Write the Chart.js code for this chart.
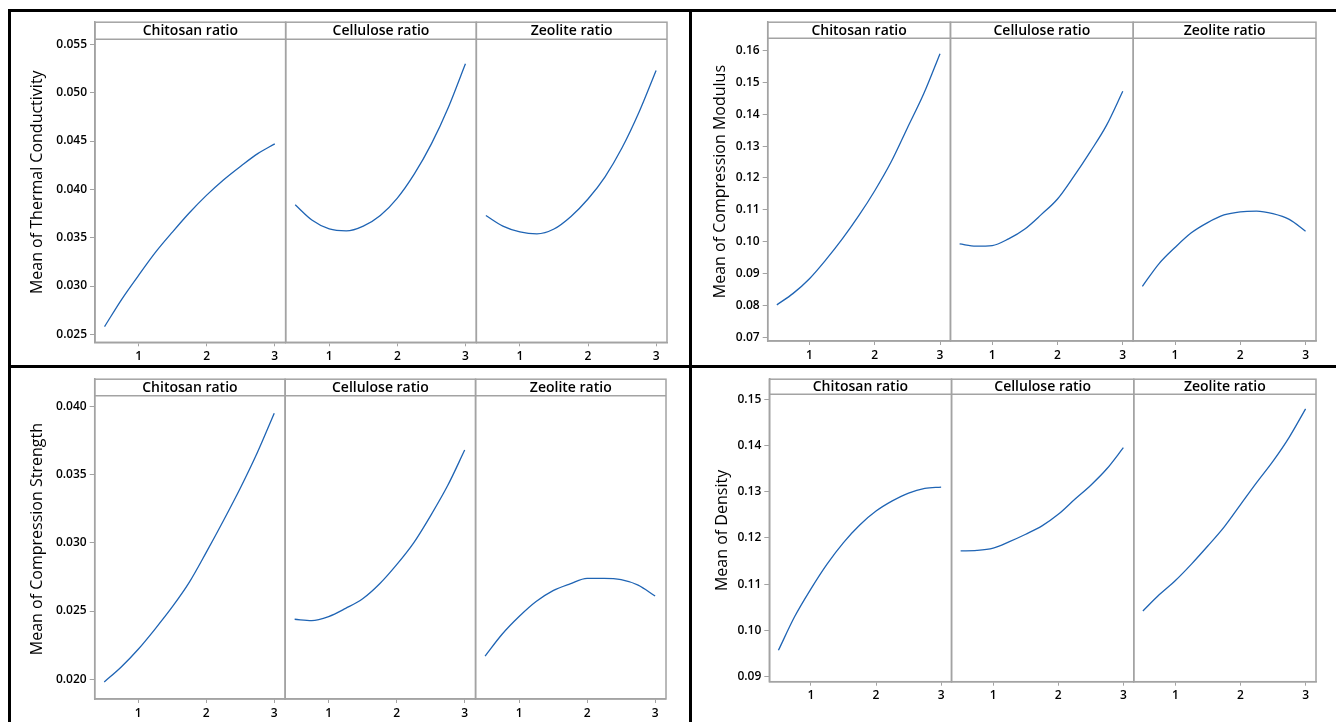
<!DOCTYPE html>
<html><head><meta charset="utf-8">
<script src="https://cdn.jsdelivr.net/npm/chart.js@4/dist/chart.umd.min.js"></script>
<style>
html,body{margin:0;padding:0;background:#fff;width:1336px;height:722px;overflow:hidden;position:relative}
.frame{position:absolute;background:#000}
canvas{position:absolute}
</style></head><body>
<div class="frame" style="left:8px;top:9px;width:1328px;height:3px"></div>
<div class="frame" style="left:8px;top:9px;width:3px;height:713px"></div>
<div class="frame" style="left:689px;top:9px;width:3px;height:713px"></div>
<div class="frame" style="left:8px;top:365px;width:1328px;height:3px"></div>
<canvas id="cTL" width="677" height="353" style="left:12px;top:12px"></canvas>
<canvas id="cTR" width="643" height="353" style="left:693px;top:12px"></canvas>
<canvas id="cBL" width="677" height="353" style="left:12px;top:369px"></canvas>
<canvas id="cBR" width="643" height="353" style="left:693px;top:369px"></canvas>
<script>
// ---- data ----
const factorNames = ['Chitosan ratio', 'Cellulose ratio', 'Zeolite ratio'];
const xValues = [0.5, 0.75, 1, 1.25, 1.5, 1.75, 2, 2.25, 2.5, 2.75, 3];
const xTicks = [1, 2, 3];
const xTickLabels = ['1', '2', '3'];

const thermalChitosan  = [0.0258, 0.0286, 0.0311, 0.0335, 0.0356, 0.0376, 0.0394, 0.0410, 0.0424, 0.0437, 0.0447];
const thermalCellulose = [0.0384, 0.0368, 0.0359, 0.0357, 0.0362, 0.0373, 0.0391, 0.0416, 0.0447, 0.0485, 0.0530];
const thermalZeolite   = [0.0373, 0.0362, 0.0356, 0.0354, 0.0359, 0.0372, 0.0390, 0.0413, 0.0443, 0.0480, 0.0523];

const modulusChitosan  = [0.0802, 0.0838, 0.0884, 0.0943, 0.1008, 0.1080, 0.1160, 0.1250, 0.1357, 0.1464, 0.1590];
const modulusCellulose = [0.0993, 0.0986, 0.0988, 0.1009, 0.1040, 0.1085, 0.1134, 0.1205, 0.1282, 0.1365, 0.1472];
const modulusZeolite   = [0.0860, 0.0930, 0.0982, 0.1028, 0.1060, 0.1084, 0.1094, 0.1096, 0.1088, 0.1070, 0.1033];

const strengthChitosan  = [0.0198, 0.0209, 0.0222, 0.0237, 0.0253, 0.0271, 0.0293, 0.0316, 0.0340, 0.0366, 0.0395];
const strengthCellulose = [0.0244, 0.0243, 0.0246, 0.0252, 0.0259, 0.0270, 0.0284, 0.0300, 0.0320, 0.0342, 0.0368];
const strengthZeolite   = [0.0217, 0.0233, 0.0246, 0.0257, 0.0265, 0.0270, 0.0274, 0.0274, 0.0273, 0.0269, 0.0261];

const densityChitosan  = [0.0957, 0.1030, 0.1090, 0.1144, 0.1190, 0.1228, 0.1258, 0.1280, 0.1297, 0.1307, 0.1310];
const densityCellulose = [0.1172, 0.1173, 0.1178, 0.1192, 0.1208, 0.1226, 0.1251, 0.1283, 0.1314, 0.1350, 0.1395];
const densityZeolite   = [0.1042, 0.1077, 0.1108, 0.1144, 0.1183, 0.1224, 0.1272, 0.1320, 0.1366, 0.1418, 0.1479];

const thermalTicks = [0.025, 0.030, 0.035, 0.040, 0.045, 0.050, 0.055];
const thermalTickLabels = ['0.025', '0.030', '0.035', '0.040', '0.045', '0.050', '0.055'];
const modulusTicks = [0.07, 0.08, 0.09, 0.10, 0.11, 0.12, 0.13, 0.14, 0.15, 0.16];
const modulusTickLabels = ['0.07', '0.08', '0.09', '0.10', '0.11', '0.12', '0.13', '0.14', '0.15', '0.16'];
const strengthTicks = [0.020, 0.025, 0.030, 0.035, 0.040];
const strengthTickLabels = ['0.020', '0.025', '0.030', '0.035', '0.040'];
const densityTicks = [0.09, 0.10, 0.11, 0.12, 0.13, 0.14, 0.15];
const densityTickLabels = ['0.09', '0.10', '0.11', '0.12', '0.13', '0.14', '0.15'];

// ---- style ----
const FONT = "'Open Sans', 'DejaVu Sans', sans-serif";
const GRAY = '#a3a3a3';
const BLUE = '#1f64b4';

const panelPlugin = {
  id: 'panelFrames',
  afterDraw(chart) {
    const o = chart.options.plugins.panelFrames;
    const ca = chart.chartArea;
    const ctx = chart.ctx;
    ctx.save();
    ctx.strokeStyle = GRAY;
    ctx.lineWidth = 1.5;
    ['x0', 'x1', 'x2'].forEach((id, i) => {
      const s = chart.scales[id];
      ctx.strokeRect(s.left, ca.top, s.right - s.left, ca.bottom - ca.top);
      ctx.beginPath();
      ctx.moveTo(s.left, ca.top + o.stripH);
      ctx.lineTo(s.right, ca.top + o.stripH);
      ctx.stroke();
      ctx.fillStyle = '#000';
      ctx.font = '600 14px ' + FONT;
      ctx.textAlign = 'center';
      ctx.textBaseline = 'middle';
      ctx.fillText(factorNames[i], (s.left + s.right) / 2, ca.top + o.stripH / 2 + 0.5);
    });
    ctx.restore();
  }
};

function makeChart(id, g) {
  const series = g.series;
  const datasets = series.map((arr, i) => ({
    data: xValues.map((x, k) => ({x: x, y: arr[k]})),
    xAxisID: 'x' + i, yAxisID: 'y',
    borderColor: BLUE, borderWidth: 1.3, pointRadius: 0, fill: false,
    cubicInterpolationMode: 'monotone'
  }));
  const xScale = () => ({
    type: 'linear', position: 'bottom', stack: 'panels', stackWeight: 1,
    min: 0.36, max: 3.16,
    afterBuildTicks: (s) => { s.ticks = xTicks.map(v => ({value: v})); },
    afterFit: (s) => { s.height = 20; },
    ticks: {
      color: '#000', font: {family: FONT, size: 12, weight: '600'}, padding: 3,
      maxRotation: 0, autoSkip: false,
      callback: (v) => xTickLabels[xTicks.indexOf(v)]
    },
    grid: {drawOnChartArea: false, drawTicks: true, tickLength: 4, color: GRAY, lineWidth: 1},
    border: {display: true, color: GRAY, width: 1.5}
  });
  return new Chart(document.getElementById(id), {
    type: 'line',
    data: {datasets},
    plugins: [panelPlugin],
    options: {
      responsive: false, animation: false, devicePixelRatio: 1, events: [],
      layout: {padding: {left: 0, top: g.padTop, right: g.padRight, bottom: g.padBottom}},
      plugins: {legend: {display: false}, tooltip: {enabled: false}, panelFrames: {stripH: g.stripH}},
      scales: {
        x0: xScale(), x1: xScale(), x2: xScale(),
        y: {
          type: 'linear', position: 'left', min: g.min, max: g.max,
          afterBuildTicks: (s) => { s.ticks = g.ticks.map(v => ({value: v})); },
          afterFit: (s) => { s.width = g.yWidth; },
          ticks: {
            color: '#000', font: {family: FONT, size: 12, weight: '600'}, padding: 3, autoSkip: false,
            callback: (v) => g.labels[g.ticks.indexOf(v)]
          },
          grid: {drawOnChartArea: false, drawTicks: true, tickLength: 5, color: GRAY, lineWidth: 1},
          border: {display: true, color: GRAY, width: 1.5},
          title: {display: true, text: g.title, color: '#000', font: {family: FONT, size: 16}, padding: {top: g.titlePad, bottom: 0}}
        }
      }
    }
  });
}

makeChart('cTL', {
  series: [thermalChitosan, thermalCellulose, thermalZeolite],
  ticks: thermalTicks, labels: thermalTickLabels, title: 'Mean of Thermal Conductivity',
  min: 0.02418, max: 0.05729, padTop: 7, padRight: 22, padBottom: 2.7, yWidth: 83, titlePad: 15.9, stripH: 17
});
makeChart('cTR', {
  series: [modulusChitosan, modulusCellulose, modulusZeolite],
  ticks: modulusTicks, labels: modulusTickLabels, title: 'Mean of Compression Modulus',
  min: 0.06886, max: 0.16887, padTop: 5.3, padRight: 20, padBottom: 4, yWidth: 74.7, titlePad: 17.4, stripH: 16
});
makeChart('cBL', {
  series: [strengthChitosan, strengthCellulose, strengthZeolite],
  ticks: strengthTicks, labels: strengthTickLabels, title: 'Mean of Compression Strength',
  min: 0.018554, max: 0.041995, padTop: 5.7, padRight: 23, padBottom: 3, yWidth: 82.7, titlePad: 15.9, stripH: 16.6
});
makeChart('cBR', {
  series: [densityChitosan, densityCellulose, densityZeolite],
  ticks: densityTicks, labels: densityTickLabels, title: 'Mean of Density',
  min: 0.08892, max: 0.15431, padTop: 9.3, padRight: 20, padBottom: 20.3, yWidth: 76.3, titlePad: 19.4, stripH: 15
});
</script>
</body></html>
